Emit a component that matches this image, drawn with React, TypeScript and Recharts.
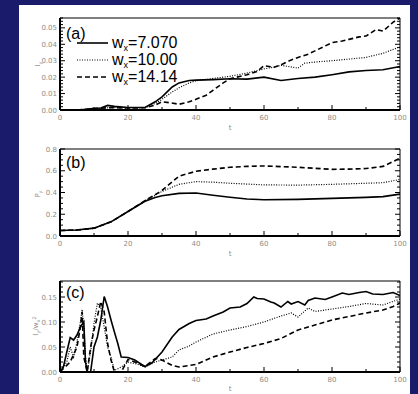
import React from "react";
import { LineChart, Line, XAxis, YAxis } from "recharts";

// panel (a): I_y vs t
const tA1 = [5, 8, 10, 12, 14, 16, 20, 25, 28, 30, 33, 35, 38, 40, 45, 50, 55, 60, 65, 70, 75, 80, 85, 90, 95, 100];
const vA1 = [0.0, 0.0005, 0.001, 0.0012, 0.0028, 0.0022, 0.0015, 0.0015, 0.005, 0.008, 0.014, 0.0165, 0.018, 0.0182, 0.0185, 0.019, 0.0188, 0.02, 0.018, 0.0192, 0.02, 0.0215, 0.0232, 0.024, 0.0245, 0.0265];
const tA2 = [5, 10, 15, 20, 25, 28, 30, 33, 35, 38, 40, 45, 50, 55, 60, 63, 65, 68, 70, 72, 75, 80, 85, 90, 95, 100];
const vA2 = [0.0, 0.0008, 0.0015, 0.0012, 0.0014, 0.004, 0.0065, 0.011, 0.0135, 0.0165, 0.0178, 0.0192, 0.0205, 0.0225, 0.025, 0.0262, 0.0272, 0.0262, 0.0255, 0.0285, 0.0292, 0.03, 0.031, 0.032, 0.0345, 0.0385];
const tA3 = [5, 10, 15, 20, 25, 28, 30, 32, 35, 38, 40, 43, 45, 48, 50, 55, 58, 60, 63, 65, 68, 70, 73, 75, 78, 80, 83, 85, 88, 90, 93, 95, 98, 100];
const vA3 = [0.0, 0.0008, 0.0015, 0.0012, 0.0014, 0.003, 0.005, 0.0045, 0.0035, 0.005, 0.0065, 0.009, 0.012, 0.0165, 0.019, 0.0215, 0.0235, 0.027, 0.026, 0.0275, 0.0305, 0.032, 0.034, 0.036, 0.039, 0.041, 0.042, 0.043, 0.0445, 0.045, 0.049, 0.048, 0.0535, 0.056];

// panel (b): P_y vs t
const tB1 = [0, 5, 10, 15, 20, 25, 28, 30, 35, 40, 45, 50, 55, 60, 70, 80, 90, 95, 100];
const vB1 = [0.05, 0.055, 0.072, 0.13, 0.225, 0.32, 0.355, 0.37, 0.392, 0.395, 0.375, 0.356, 0.34, 0.333, 0.337, 0.346, 0.355, 0.362, 0.385];
const tB2 = [0, 5, 10, 15, 20, 25, 28, 30, 35, 40, 45, 50, 60, 70, 80, 90, 95, 100];
const vB2 = [0.05, 0.055, 0.072, 0.13, 0.225, 0.325, 0.375, 0.41, 0.475, 0.5, 0.495, 0.485, 0.47, 0.468, 0.475, 0.485, 0.49, 0.52];
const tB3 = [0, 5, 10, 15, 20, 25, 28, 30, 35, 40, 45, 50, 55, 60, 70, 80, 85, 90, 95, 100];
const vB3 = [0.05, 0.055, 0.072, 0.13, 0.225, 0.325, 0.38, 0.42, 0.55, 0.595, 0.615, 0.632, 0.64, 0.644, 0.632, 0.613, 0.615, 0.62, 0.64, 0.715];

// panel (c): I_y / w_x^2 vs t
const tC1 = [0, 1, 2, 3, 4, 5, 6, 7, 7.5, 8, 9, 10, 11, 12, 13, 14, 15, 16, 17, 18, 20, 22, 24, 25, 27, 30, 33, 35, 38, 40, 43, 45, 48, 50, 53, 55, 57, 58, 60, 62, 63, 65, 67, 68, 70, 72, 73, 75, 78, 80, 83, 85, 88, 90, 92, 95, 98, 100];
const vC1 = [0, 0.01, 0.04, 0.069, 0.064, 0.074, 0.09, 0.1, 0.02, 0, 0, 0.05, 0.07, 0.104, 0.151, 0.13, 0.104, 0.08, 0.057, 0.03, 0.029, 0.024, 0.015, 0.011, 0.018, 0.04, 0.07, 0.085, 0.097, 0.103, 0.106, 0.112, 0.12, 0.128, 0.13, 0.137, 0.15, 0.147, 0.146, 0.14, 0.138, 0.13, 0.141, 0.136, 0.141, 0.134, 0.143, 0.148, 0.145, 0.15, 0.158, 0.155, 0.159, 0.161, 0.156, 0.155, 0.159, 0.153];
const tC2 = [0, 2, 3, 4, 5, 6, 6.5, 7, 7.5, 8, 9, 10, 11, 12, 13, 14, 15, 16, 18, 20, 23, 25, 28, 30, 33, 35, 38, 40, 45, 50, 55, 60, 62, 65, 68, 70, 73, 75, 78, 80, 85, 90, 95, 100];
const vC2 = [0, 0.02, 0.05, 0.03, 0.06, 0.1, 0.125, 0.09, 0.03, 0, 0.04, 0.097, 0.138, 0.128, 0.09, 0.05, 0.03, 0.003, 0.01, 0.02, 0.015, 0.01, 0.02, 0.024, 0.03, 0.044, 0.052, 0.06, 0.076, 0.084, 0.091, 0.1, 0.105, 0.112, 0.118, 0.11, 0.128, 0.121, 0.124, 0.126, 0.131, 0.137, 0.134, 0.146];
const tC3 = [0, 3, 5, 6, 6.5, 7, 8, 9, 10, 11, 12, 13, 14, 15, 16, 18, 20, 22, 25, 28, 30, 33, 35, 40, 45, 50, 55, 60, 65, 70, 75, 80, 85, 90, 95, 98, 100];
const vC3 = [0, 0.02, 0.05, 0.09, 0.12, 0.03, 0, 0.05, 0.084, 0.111, 0.141, 0.12, 0.057, 0.024, 0, 0, 0.025, 0.02, 0.011, 0.027, 0.024, 0.013, 0.01, 0.015, 0.03, 0.04, 0.049, 0.057, 0.067, 0.084, 0.094, 0.104, 0.111, 0.118, 0.124, 0.131, 0.138];

const xTicks = [0, 20, 40, 60, 80, 100];
const xMinor = [0, 10, 20, 30, 40, 50, 60, 70, 80, 90, 100];
const yTicksA = [0, 0.01, 0.02, 0.03, 0.04, 0.05];
const yTicksB = [0, 0.2, 0.4, 0.6, 0.8];
const yTicksC = [0, 0.05, 0.1, 0.15];
const legendLabels = ["7.070", "10.00", "14.14"];

const zip = (t: number[], v: number[]) => t.map((x, i) => ({ t: x, v: v[i] }));
const steps = (lo: number, hi: number, d: number) => {
  const out: number[] = [];
  for (let i = 0; lo + i * d <= hi + 1e-9; i++) out.push(+(lo + i * d).toFixed(4));
  return out;
};

const labelStyle = { fontSize: 7, fill: "#8c8c8c", fontFamily: "DejaVu Sans" };

// one custom tick draws the inward tick mark and, for majors, the label
const tickFor = (side: string, majors: number[], digits: number, withLabel: boolean) => (p: any) => {
  const { x, y, payload } = p;
  const v = payload.value;
  const major = majors.some((m) => Math.abs(m - v) < 1e-9);
  const len = major ? 5 : 3;
  let x2 = x, y2 = y;
  if (side === "left") x2 = x + len;
  if (side === "right") x2 = x - len;
  if (side === "bottom") y2 = y - len;
  if (side === "top") y2 = y + len;
  return (
    <g>
      <line x1={x} y1={y} x2={x2} y2={y2} stroke="#000" strokeWidth={1} />
      {withLabel && major && side === "left" && (
        <text x={x - 3} y={y + 2.5} textAnchor="end" style={labelStyle}>{v.toFixed(digits)}</text>
      )}
      {withLabel && major && side === "bottom" && (
        <text x={x} y={y + 10} textAnchor="middle" style={labelStyle}>{String(v)}</text>
      )}
    </g>
  );
};

function frame(domain: number[], major: number[], minor: number[], digits: number) {
  return [
    <XAxis key="xb" xAxisId="b" type="number" dataKey="t" domain={[0, 100]} allowDataOverflow ticks={xMinor} interval={0}
      height={1} tickSize={0} tickMargin={0} tickLine={false} tick={tickFor("bottom", xTicks, 0, true)}
      axisLine={{ stroke: "#000", strokeWidth: 2 }} />,
    <XAxis key="xt" xAxisId="t" orientation="top" type="number" domain={[0, 100]} allowDataOverflow ticks={xMinor} interval={0}
      height={1} tickSize={0} tickMargin={0} tickLine={false} tick={tickFor("top", xTicks, 0, false)}
      axisLine={{ stroke: "#000", strokeWidth: 1 }} />,
    <YAxis key="yl" yAxisId="l" type="number" domain={domain} allowDataOverflow ticks={minor} interval={0}
      width={1} tickSize={0} tickMargin={0} tickLine={false} tick={tickFor("left", major, digits, true)}
      axisLine={{ stroke: "#000", strokeWidth: 2 }} />,
    <YAxis key="yr" yAxisId="r" orientation="right" type="number" domain={domain} allowDataOverflow ticks={minor} interval={0}
      width={1} tickSize={0} tickMargin={0} tickLine={false} tick={tickFor("right", major, digits, false)}
      axisLine={{ stroke: "#000", strokeWidth: 1 }} />,
  ];
}

function series(s1: any[], s2: any[], s3: any[]) {
  return [
    <Line key="s1" xAxisId="b" yAxisId="l" data={s1} dataKey="v" type="linear" stroke="#000" strokeWidth={1.6} dot={false} isAnimationActive={false} />,
    <Line key="s2" xAxisId="b" yAxisId="l" data={s2} dataKey="v" type="linear" stroke="#000" strokeWidth={1.2} strokeDasharray="1 1.5" dot={false} isAnimationActive={false} />,
    <Line key="s3" xAxisId="b" yAxisId="l" data={s3} dataKey="v" type="linear" stroke="#000" strokeWidth={1.6} strokeDasharray="5 3" dot={false} isAnimationActive={false} />,
  ];
}

const small = { fontSize: 7, fill: "#8c8c8c", fontFamily: "DejaVu Sans" };
const big = { fontSize: 16, fill: "#000", fontFamily: "Liberation Sans" };

export default function App() {
  return (
    <div style={{ position: "absolute", left: 0, top: 0, width: 418, height: 394, background: "#1b1b6b", overflow: "hidden" }}>
      <div style={{ position: "absolute", left: 19, top: 5, width: 391, height: 389, background: "#fff" }} />
      <div style={{ position: "absolute", left: 0, top: 0 }}>
        <LineChart width={418} height={130} margin={{ top: 17, right: 17, bottom: 19, left: 59 }}>
          {frame([0, 0.056], yTicksA, steps(0, 0.056, 0.002), 2)}
          {series(zip(tA1, vA1), zip(tA2, vA2), zip(tA3, vA3))}
        </LineChart>
      </div>
      <div style={{ position: "absolute", left: 0, top: 130 }}>
        <LineChart width={418} height={130} margin={{ top: 18, right: 17, bottom: 23, left: 59 }}>
          {frame([0, 0.8], yTicksB, steps(0, 0.8, 0.05), 1)}
          {series(zip(tB1, vB1), zip(tB2, vB2), zip(tB3, vB3))}
        </LineChart>
      </div>
      <div style={{ position: "absolute", left: 0, top: 262 }}>
        <LineChart width={418} height={132} margin={{ top: 18, right: 17, bottom: 21, left: 59 }}>
          {frame([0, 0.182], yTicksC, steps(0, 0.18, 0.01), 2)}
          {series(zip(tC1, vC1), zip(tC2, vC2), zip(tC3, vC3))}
        </LineChart>
      </div>
      <svg width={418} height={394} style={{ position: "absolute", left: 0, top: 0, pointerEvents: "none" }}>
        <text x={66} y={39} style={big}>(a)</text>
        <text x={66} y={168} style={big}>(b)</text>
        <text x={66} y={298} style={big}>(c)</text>
        {legendLabels.map((lab, i) => {
          const y = [43, 60, 77][i];
          const dash = [undefined, "1 1.5", "5 3"][i];
          return (
            <g key={lab}>
              <line x1={77} x2={108} y1={y} y2={y} stroke="#000" strokeWidth={i === 1 ? 1.2 : 1.6} strokeDasharray={dash} />
              <text x={112} y={y + 5} style={big}>
                w<tspan fontSize={9} dy={3}>x</tspan><tspan dy={-3}>={lab}</tspan>
              </text>
            </g>
          );
        })}
        <text x={230} y={130} textAnchor="middle" style={small}>t</text>
        <text x={230} y={256} textAnchor="middle" style={small}>t</text>
        <text x={230} y={391} textAnchor="middle" style={small}>t</text>
        <text transform="translate(40,64) rotate(-90)" textAnchor="middle" style={small}>I<tspan fontSize={5} dy={1.5}>y</tspan></text>
        <text transform="translate(40,194) rotate(-90)" textAnchor="middle" style={small}>P<tspan fontSize={5} dy={1.5}>y</tspan></text>
        <text transform="translate(38,326) rotate(-90)" textAnchor="middle" style={small}>
          I<tspan fontSize={5} dy={1.5}>y</tspan><tspan dy={-1.5}>/w</tspan><tspan fontSize={5} dy={1.5}>x</tspan><tspan fontSize={5} dy={-4}>2</tspan>
        </text>
      </svg>
    </div>
  );
}
